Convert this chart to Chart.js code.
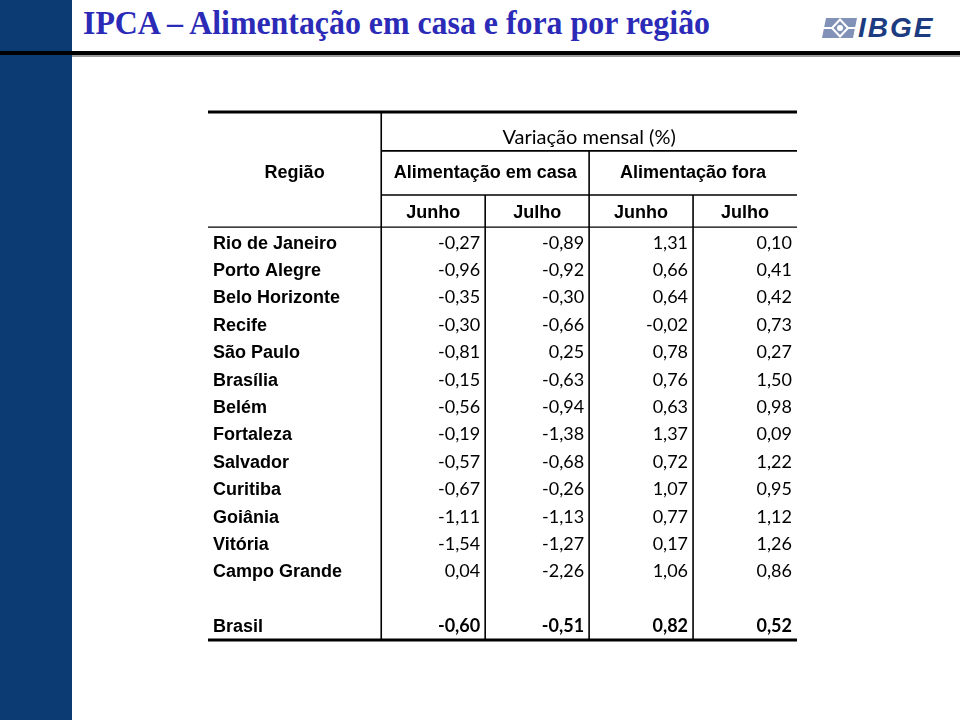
<!DOCTYPE html>
<html lang="pt-BR">
<head>
<meta charset="utf-8">
<title>IPCA – Alimentação em casa e fora por região</title>
<script src="https://cdn.jsdelivr.net/npm/chart.js@4.4.1/dist/chart.umd.min.js"></script>
<style>
  html, body { margin: 0; padding: 0; background: #fff; }
  #page { position: relative; width: 960px; height: 720px; overflow: hidden; background: #fff; }
  #sidebar { position: absolute; left: 0; top: 0; width: 72px; height: 720px; background: #0c3a73; }
  #rule { position: absolute; left: 0; top: 51px; width: 960px; height: 4px; background: #000; }
  #rule2 { position: absolute; left: 72px; top: 55px; width: 888px; height: 2px; background: #9a9a9a; }
  #title {
    position: absolute; left: 83px; top: 7px; margin: 0;
    font: bold 33px/33px "Liberation Serif", "Times New Roman", serif;
    color: #2b2bb8; white-space: nowrap; transform-origin: 0 0;
  }
  #logo-icon { position: absolute; left: 822px; top: 18px; }
  #logo-text {
    position: absolute; left: 858px; top: 14px;
    font: italic bold 28px/28px "Liberation Sans", Arial, sans-serif;
    color: #1c3b80; letter-spacing: 2px;
  }
  #table { position: absolute; left: 0; top: 0; }
</style>
</head>
<body>
<div id="page">
  <div id="sidebar"></div>
  <h1 id="title">IPCA – Alimentação em casa e fora por região</h1>
  <svg id="logo-icon" width="35" height="20" viewBox="0 0 35 20">
    <polygon points="4,0 35,0 31,20 0,20" fill="#8291b8"/>
    <polygon points="18,1.5 26,10 18,18.5 10,10" fill="none" stroke="#fff" stroke-width="2"/>
    <circle cx="18" cy="10" r="3" fill="#fff"/>
    <line x1="1" y1="10" x2="10" y2="10" stroke="#fff" stroke-width="2"/>
    <line x1="26" y1="10" x2="34" y2="10" stroke="#fff" stroke-width="2"/>
  </svg>
  <div id="logo-text">IBGE</div>
  <div id="rule"></div>
  <div id="rule2"></div>
  <canvas id="table" width="960" height="720"></canvas>
</div>

<script>
// ---- Data ----
const regions = ['Rio de Janeiro', 'Porto Alegre', 'Belo Horizonte', 'Recife', 'São Paulo', 'Brasília',
  'Belém', 'Fortaleza', 'Salvador', 'Curitiba', 'Goiânia', 'Vitória', 'Campo Grande'];
const casaJunho = [-0.27, -0.96, -0.35, -0.30, -0.81, -0.15, -0.56, -0.19, -0.57, -0.67, -1.11, -1.54, 0.04];
const casaJulho = [-0.89, -0.92, -0.30, -0.66, 0.25, -0.63, -0.94, -1.38, -0.68, -0.26, -1.13, -1.27, -2.26];
const foraJunho = [1.31, 0.66, 0.64, -0.02, 0.78, 0.76, 0.63, 1.37, 0.72, 1.07, 0.77, 0.17, 1.06];
const foraJulho = [0.10, 0.41, 0.42, 0.73, 0.27, 1.50, 0.98, 0.09, 1.22, 0.95, 1.12, 1.26, 0.86];
const totalLabel = 'Brasil';
const brasil = [-0.60, -0.51, 0.82, 0.52];
const groupLabels = ['Alimentação em casa', 'Alimentação fora'];
const monthLabels = ['Junho', 'Julho', 'Junho', 'Julho'];
const headerLabel = 'Região';
const superLabel = 'Variação mensal (%)';

// ---- Title fit ----
const title = document.getElementById('title');
title.style.transform = 'scaleX(' + (627 / title.getBoundingClientRect().width) + ')';

// ---- Table grid (in scale units: x = column edge, y = row index) ----
const X_LEFT = -5 / 3, X_RIGHT = 4;
const Y_TOP = -4.75, Y_BOTTOM = 14.52;
const Y_SUPER = -3.84, Y_GROUP = -2.56, Y_MONTH = -1.1;
const Y_RULE1 = -3.33, Y_RULE2 = -1.72, Y_RULE3 = -0.55;
const TOTAL_ROW = regions.length + 1;

const fmt = v => v.toFixed(2).replace('.', ',');
const series = [casaJunho, casaJulho, foraJunho, foraJulho];

const datasets = series.map((values, c) => ({
  label: monthLabels[c],
  data: values.map((v, i) => ({ x: c + 1, y: i, v: v }))
    .concat([{ x: c + 1, y: TOTAL_ROW, v: brasil[c], total: true }]),
  pointRadius: 0
}));
datasets.push({
  label: headerLabel,
  data: regions.map((r, i) => ({ x: X_LEFT, y: i, t: r }))
    .concat([{ x: X_LEFT, y: TOTAL_ROW, t: totalLabel, total: true }]),
  pointRadius: 0
});

const ARIAL_B = 'bold 18px "Liberation Sans", Arial, sans-serif';
const NUM = '18px Lato, "Noto Sans", sans-serif';
const NUM_B = 'bold 18px Lato, "Noto Sans", sans-serif';
const SUPER = '20px Lato, "Noto Sans", sans-serif';

const tablePlugin = {
  id: 'tablePlugin',
  afterDatasetsDraw(chart) {
    const { ctx, scales: { x, y } } = chart;
    const px = v => x.getPixelForValue(v);
    const py = v => y.getPixelForValue(v);
    ctx.save();
    ctx.strokeStyle = '#000';
    ctx.lineCap = 'butt';

    // horizontal rules
    const hLines = [
      [Y_TOP, X_LEFT, X_RIGHT, 3], [Y_RULE1, 0, X_RIGHT, 1.6], [Y_RULE2, 0, X_RIGHT, 1.6],
      [Y_RULE3, X_LEFT, X_RIGHT, 1.4], [Y_BOTTOM, X_LEFT, X_RIGHT, 3]
    ];
    hLines.forEach(([yy, x0, x1, w]) => {
      ctx.lineWidth = w;
      ctx.beginPath(); ctx.moveTo(px(x0), py(yy)); ctx.lineTo(px(x1), py(yy)); ctx.stroke();
    });
    // vertical rules
    const vLines = [[0, Y_TOP], [2, Y_RULE1], [1, Y_RULE2], [3, Y_RULE2]];
    ctx.lineWidth = 1.6;
    vLines.forEach(([xx, y0]) => {
      ctx.beginPath(); ctx.moveTo(px(xx), py(y0)); ctx.lineTo(px(xx), py(Y_BOTTOM)); ctx.stroke();
    });

    // headers
    ctx.fillStyle = '#000';
    ctx.textAlign = 'center';
    ctx.textBaseline = 'alphabetic';
    ctx.font = ARIAL_B;
    ctx.fillText(headerLabel, px(X_LEFT / 2), py(Y_GROUP) + 6.4);
    groupLabels.forEach((g, k) => ctx.fillText(g, px(k * 2 + 1), py(Y_GROUP) + 6.4));
    monthLabels.forEach((m, k) => ctx.fillText(m, px(k + 0.5), py(Y_MONTH) + 6.4));
    ctx.font = SUPER;
    ctx.fillText(superLabel, px(2), py(Y_SUPER) + 7);

    // cells
    chart.data.datasets.forEach((ds, di) => {
      const meta = chart.getDatasetMeta(di);
      meta.data.forEach((el, i) => {
        const d = ds.data[i];
        if (d.t !== undefined) {
          ctx.textAlign = 'left';
          ctx.font = ARIAL_B;
          ctx.fillText(d.t, el.x + 5, el.y + 6.4);
        } else {
          ctx.textAlign = 'right';
          ctx.font = d.total ? NUM_B : NUM;
          ctx.fillText(fmt(d.v), el.x - 5, el.y + 6.5);
        }
      });
    });
    ctx.restore();
  }
};

new Chart(document.getElementById('table'), {
  type: 'scatter',
  data: { datasets: datasets },
  options: {
    responsive: false,
    animation: false,
    events: [],
    layout: { padding: { left: 208, right: 163, top: 112, bottom: 80 } },
    plugins: { legend: { display: false }, tooltip: { enabled: false } },
    scales: {
      x: { type: 'linear', display: false, min: X_LEFT, max: X_RIGHT },
      y: { type: 'linear', display: false, reverse: true, min: Y_TOP, max: Y_BOTTOM }
    }
  },
  plugins: [tablePlugin]
});
</script>
</body>
</html>
